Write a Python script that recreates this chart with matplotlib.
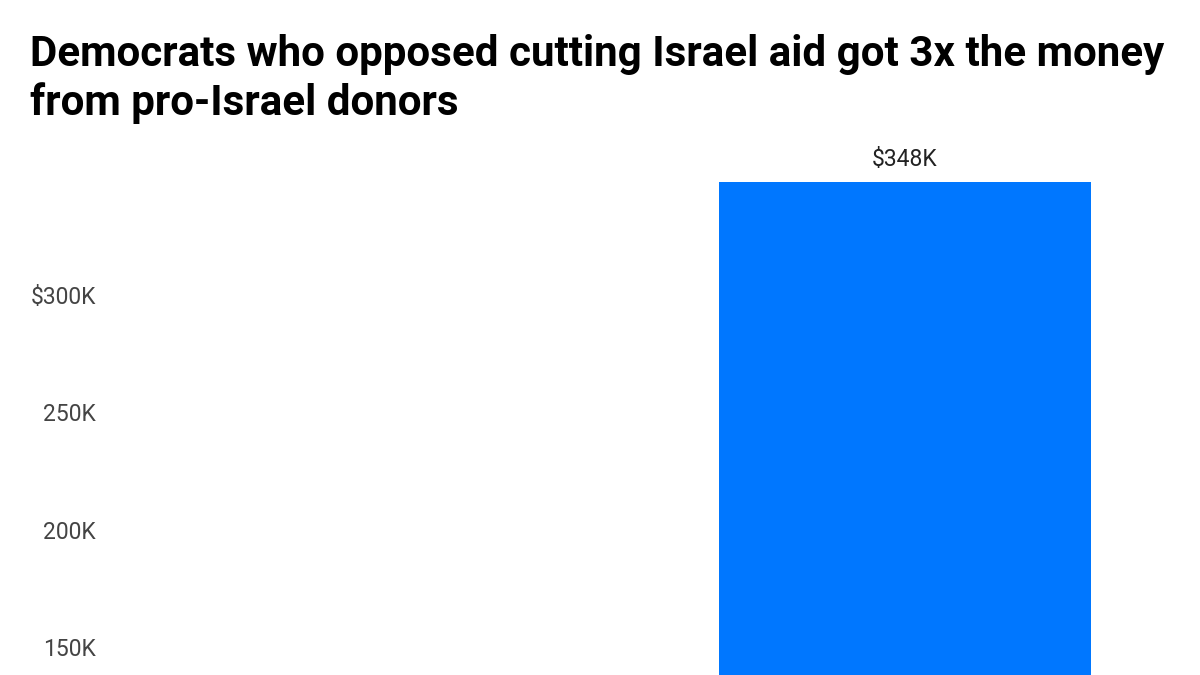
import matplotlib
matplotlib.use("Agg")
import matplotlib.pyplot as plt
from matplotlib.ticker import FuncFormatter

categories = ["Supported cutting aid", "Opposed cutting aid"]
values = [116000, 348000]
value_labels = ["$116K", "$348K"]
yticks = [150000, 200000, 250000, 300000]   # ticks visible in the cropped view
title_lines = ["Democrats who opposed cutting Israel aid got 3x the money",
               "from pro-Israel donors"]

plt.rcParams['font.family'] = ['Roboto', 'DejaVu Sans']

W, H = 1200, 675
fig = plt.figure(figsize=(12, 6.75), dpi=100)
fig.patch.set_facecolor("white")

# axes: x from 110px to 1170px; y=0 at 1000px (below canvas, chart is cropped), ylim top 350K at 177.5px
left_px, right_px = 110, 1170
top_px, bottom_px = 177.5, 1000
ax = fig.add_axes([left_px / W, 1 - bottom_px / H, (right_px - left_px) / W, (bottom_px - top_px) / H])
ax.set_ylim(0, 350000)
ax.set_xlim(-0.71, 1.57)

x = list(range(len(categories)))
bars = ax.bar(x, values, width=0.8, color="#0077FF")
# only the labels that fall inside the visible (cropped) area
visible_min = 150000
for xi, v, lab in zip(x, values, value_labels):
    if v >= visible_min:
        ax.annotate(lab, (xi, v), xytext=(0, 8), textcoords="offset points",
                    ha="center", va="bottom", fontsize=16.5, color="#222222")

ax.set_yticks(yticks)
ax.yaxis.set_major_formatter(FuncFormatter(lambda v, p: ("$%dK" if v == 300000 else "%dK") % (v / 1000)))
ax.tick_params(axis="y", length=0, pad=10, labelsize=16.5, labelcolor="#444444")
ax.set_xticks(x)
ax.set_xticklabels([])
ax.tick_params(axis="x", length=0)
for s in ax.spines.values():
    s.set_visible(False)

baselines = [66, 115]
for line, b in zip(title_lines, baselines):
    fig.text(30 / W, 1 - b / H, line, ha="left", va="baseline", fontsize=30.3,
             fontweight="bold", color="#000000")

fig.savefig("out.png", dpi=100)
